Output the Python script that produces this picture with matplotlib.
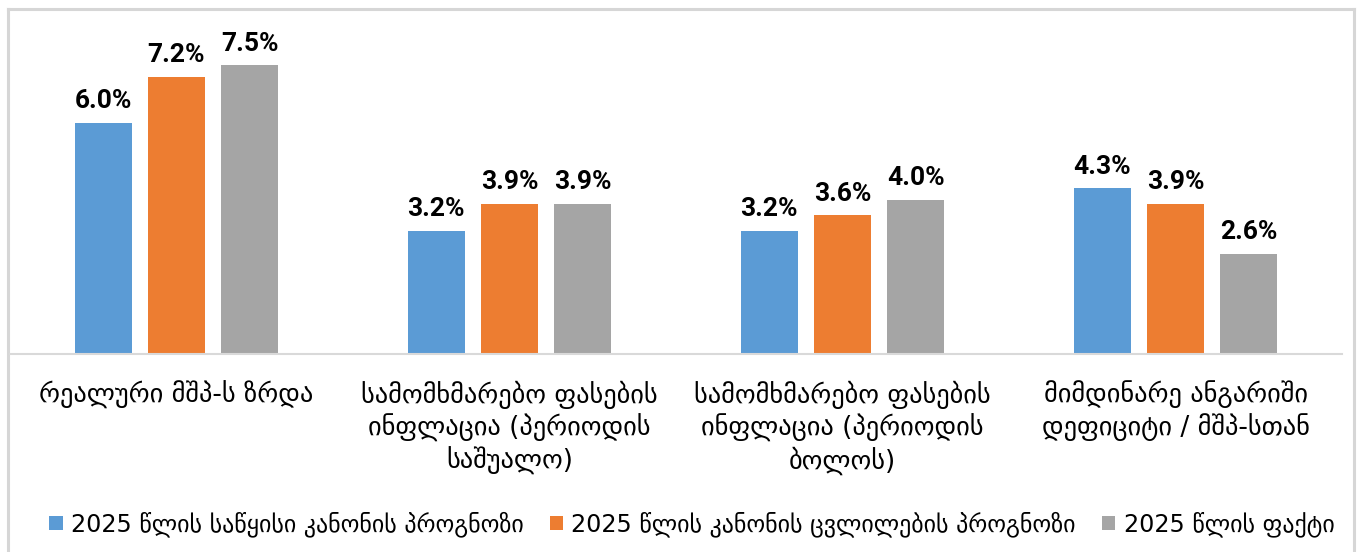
import matplotlib.pyplot as plt
import numpy as np

categories = [
    "რეალური მშპ-ს ზრდა",
    "სამომხმარებო ფასების\nინფლაცია (პერიოდის\nსაშუალო)",
    "სამომხმარებო ფასების\nინფლაცია (პერიოდის\nბოლოს)",
    "მიმდინარე ანგარიში\nდეფიციტი / მშპ-სთან",
]
series_names = [
    "2025 წლის საწყისი კანონის პროგნოზი",
    "2025 წლის კანონის ცვლილების პროგნოზი",
    "2025 წლის ფაქტი",
]
initial_forecast = [6.0, 3.2, 3.2, 4.3]
revised_forecast = [7.2, 3.9, 3.6, 3.9]
actual = [7.5, 3.9, 4.0, 2.6]
colors = ["#5B9BD5", "#ED7D31", "#A5A5A5"]

plt.rcParams["font.family"] = ["DejaVu Sans"]

W, H = 1357, 552
fig = plt.figure(figsize=(W / 100, H / 100), dpi=100)

# outer chart frame: an empty axes whose spines form the border
frame = fig.add_axes([7.5 / W, -0.05, 1346 / W, 1.05 - 8.5 / H], zorder=-1)
frame.set_xticks([])
frame.set_yticks([])
frame.patch.set_visible(False)
frame.spines["bottom"].set_visible(False)
for s in ["top", "left", "right"]:
    frame.spines[s].set_color("#d6d6d6")
    frame.spines[s].set_linewidth(2.2)

# axes box in pixels: left 10, right 1342, baseline at 354
ax = fig.add_axes([10 / W, (H - 354) / H, 1332 / W, 335 / H])
ax.patch.set_visible(False)

x = np.arange(len(categories))
width = 0.171
step = 0.22
for i, (vals, name, c) in enumerate(zip([initial_forecast, revised_forecast, actual], series_names, colors)):
    pos = x + (i - 1) * step
    ax.bar(pos, vals, width, color=c, label=name, zorder=2)
    for p, v in zip(pos, vals):
        ax.annotate(f"{v:.1f}%", (p, v), xytext=(0, 7), textcoords="offset points",
                    ha="center", va="bottom", fontsize=19, fontweight="bold",
                    family="Roboto")

ax.set_xlim(-0.5, len(categories) - 0.5)
ax.set_ylim(0, 335 / 38.5)
for s in ["top", "right", "left"]:
    ax.spines[s].set_visible(False)
ax.spines["bottom"].set_color("#d9d9d9")
ax.spines["bottom"].set_linewidth(1.5)
ax.set_yticks([])
ax.set_xticks(x)
ax.set_xticklabels(categories, fontsize=19, linespacing=1.22)
ax.tick_params(axis="x", length=0, pad=19)

fig.legend(loc="center", bbox_to_anchor=(692 / W, (H - 524) / H), ncol=3, frameon=False,
           fontsize=17.2, handlelength=0.55, handleheight=0.55,
           handletextpad=0.35, columnspacing=1.1)

fig.savefig("out.png", dpi=100)
